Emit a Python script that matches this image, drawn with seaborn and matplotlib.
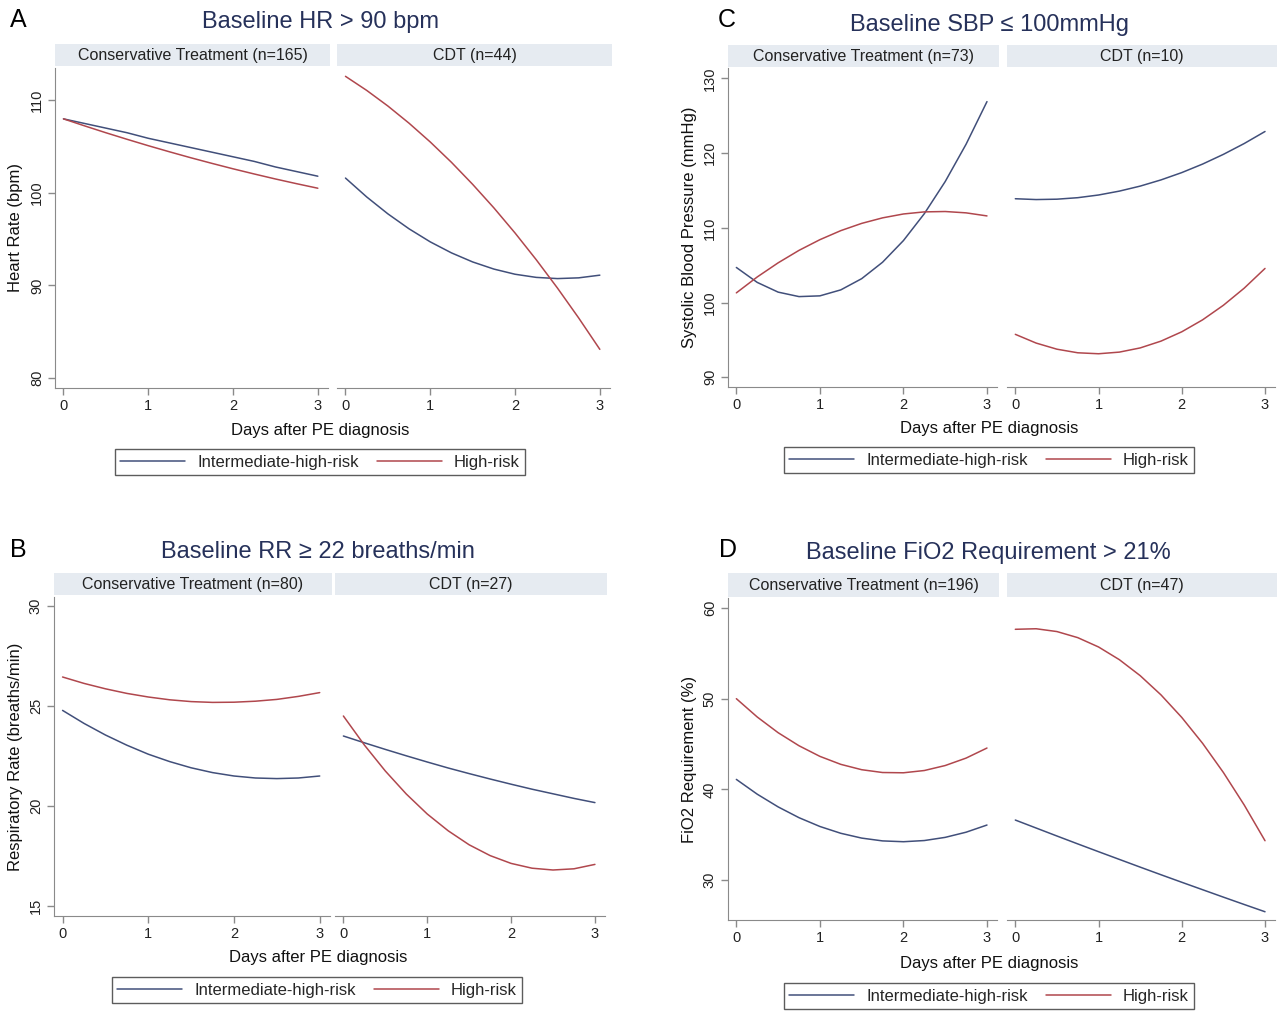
import matplotlib

matplotlib.use("Agg")
import matplotlib.pyplot as plt
import pandas as pd
import seaborn as sns
from matplotlib.lines import Line2D

# days after PE diagnosis at which the fitted curves were read
days = [0, 0.25, 0.5, 0.75, 1, 1.25, 1.5, 1.75, 2, 2.25, 2.5, 2.75, 3]

# A: heart rate
hr_cons_inter = [108.0, 107.5, 107.0, 106.5, 105.9, 105.4, 104.9, 104.4, 103.9, 103.4, 102.8, 102.3, 101.8]
hr_cons_high = [108.0, 107.24, 106.5, 105.79, 105.1, 104.44, 103.8, 103.19, 102.6, 102.04, 101.5, 100.99, 100.5]
hr_cdt_inter = [101.6, 99.56, 97.73, 96.11, 94.7, 93.51, 92.53, 91.76, 91.2, 90.86, 90.73, 90.81, 91.1]
hr_cdt_high = [112.6, 111.08, 109.39, 107.53, 105.5, 103.3, 100.92, 98.38, 95.66, 92.77, 89.71, 86.48, 83.08]

# B: respiratory rate
rr_cons_inter = [24.78, 24.13, 23.55, 23.04, 22.59, 22.22, 21.91, 21.67, 21.5, 21.4, 21.37, 21.4, 21.5]
rr_cons_high = [26.45, 26.13, 25.86, 25.63, 25.45, 25.31, 25.22, 25.18, 25.19, 25.24, 25.33, 25.48, 25.67]
rr_cdt_inter = [23.5, 23.16, 22.83, 22.51, 22.2, 21.9, 21.62, 21.35, 21.09, 20.84, 20.61, 20.38, 20.17]
rr_cdt_high = [24.5, 23.05, 21.75, 20.6, 19.6, 18.76, 18.06, 17.52, 17.13, 16.89, 16.8, 16.86, 17.08]

# C: systolic blood pressure
sbp_cons_inter = [104.7, 102.7, 101.4, 100.8, 100.9, 101.7, 103.2, 105.4, 108.3, 111.9, 116.2, 121.2, 126.9]
sbp_cons_high = [101.3, 103.43, 105.32, 106.99, 108.42, 109.63, 110.6, 111.34, 111.86, 112.14, 112.19, 112.01, 111.6]
sbp_cdt_inter = [113.9, 113.79, 113.84, 114.04, 114.4, 114.92, 115.59, 116.42, 117.4, 118.54, 119.84, 121.29, 122.9]
sbp_cdt_high = [95.75, 94.58, 93.76, 93.28, 93.15, 93.37, 93.93, 94.84, 96.09, 97.69, 99.64, 101.93, 104.57]

# D: FiO2 requirement
fio2_cons_inter = [41.1, 39.47, 38.07, 36.88, 35.91, 35.16, 34.63, 34.32, 34.23, 34.36, 34.71, 35.28, 36.07]
fio2_cons_high = [50.0, 47.98, 46.25, 44.81, 43.64, 42.76, 42.17, 41.86, 41.83, 42.08, 42.63, 43.45, 44.56]
fio2_cdt_inter = [36.62, 35.74, 34.86, 33.99, 33.13, 32.28, 31.43, 30.59, 29.76, 28.94, 28.12, 27.31, 26.51]
fio2_cdt_high = [57.65, 57.71, 57.4, 56.73, 55.7, 54.3, 52.54, 50.42, 47.93, 45.08, 41.86, 38.28, 34.34]

risk_groups = ["Intermediate-high-risk", "High-risk"]
colors = {"Intermediate-high-risk": "#414f7a", "High-risk": "#b0474d"}

W, H = 1279, 1013
STRIP_BG = "#e6ebf1"
AXIS_GRAY = "#8a8a8a"
TITLE_COLOR = "#26315a"


def long_frame(inter, high):
    rows = []
    for group, values in zip(risk_groups, [inter, high]):
        for d, v in zip(days, values):
            rows.append({"day": d, "value": v, "risk": group})
    return pd.DataFrame(rows)


def px_rect(x0, x1, y0, y1):
    return [x0 / W, 1 - y1 / H, (x1 - x0) / W, (y1 - y0) / H]


def draw_panel(fig, p):
    top, bottom = p["plot_y"]
    for i, (xs, strip_label, frame) in enumerate(
        zip([p["left"], p["right"]], p["strips"], p["frames"])
    ):
        ax = fig.add_axes(px_rect(xs[0], xs[1], top, bottom))
        sns.lineplot(
            data=frame, x="day", y="value", hue="risk", hue_order=risk_groups,
            palette=colors, linewidth=1.1, legend=False, ax=ax,
        )
        ax.set_xlim(-0.1, 3.12)
        ax.set_ylim(*p["ylim"])
        ax.set_xticks([0, 1, 2, 3])
        ax.set_xlabel("")
        ax.set_ylabel("")
        ax.spines["top"].set_visible(False)
        ax.spines["right"].set_visible(False)
        ax.spines["bottom"].set_color(AXIS_GRAY)
        ax.spines["left"].set_color(AXIS_GRAY)
        ax.tick_params(axis="both", colors=AXIS_GRAY, labelcolor="#222222",
                       labelsize=10.5, length=5, width=1, pad=3)
        if i == 0:
            ax.set_yticks(p["yticks"])
            ax.set_yticklabels([str(t) for t in p["yticks"]], rotation=90, va="center")
        else:
            ax.spines["left"].set_visible(False)
            ax.set_yticks([])

        sx = fig.add_axes(px_rect(xs[0], xs[1] + 2, p["strip"][0], p["strip"][1]))
        sx.set_facecolor(STRIP_BG)
        for s in sx.spines.values():
            s.set_visible(False)
        sx.set_xticks([])
        sx.set_yticks([])
        sx.text(0.5, 0.5, strip_label, ha="center", va="center",
                fontsize=11.5, color="#222222", transform=sx.transAxes)

    lx, ly = p["letter"]
    fig.text(lx / W, 1 - ly / H, p["letter_text"], fontsize=18,
             ha="center", va="center", color="black")
    tx, ty = p["title_xy"]
    fig.text(tx / W, 1 - ty / H, p["title"], fontsize=17,
             ha="center", va="center", color=TITLE_COLOR)
    yx = p["ylabel_x"]
    fig.text(yx / W, 1 - (top + bottom) / 2 / H, p["ylabel"], fontsize=12,
             rotation=90, ha="center", va="center", color="#111111")
    xx, xy = p["xlabel_xy"]
    fig.text(xx / W, 1 - xy / H, "Days after PE diagnosis", fontsize=12,
             ha="center", va="center", color="#111111")

    handles = [Line2D([], [], color=colors[g], linewidth=1.1) for g in risk_groups]
    gx, gy = p["legend_xy"]
    leg = fig.legend(
        handles, risk_groups, loc="center", bbox_to_anchor=(gx / W, 1 - gy / H),
        ncol=2, fontsize=12, frameon=True, fancybox=False, handlelength=3.9,
        columnspacing=1.1, handletextpad=0.7, borderpad=0.35,
    )
    leg.get_frame().set_edgecolor("#333333")
    leg.get_frame().set_linewidth(1.0)


sns.set_style("ticks")
plt.rcParams["font.family"] = ["Liberation Sans", "DejaVu Sans"]

panels = [
    dict(letter_text="A", title="Baseline HR > 90 bpm", ylabel="Heart Rate (bpm)",
         ylim=(78.9, 113.5), yticks=[80, 90, 100, 110],
         strips=["Conservative Treatment (n=165)", "CDT (n=44)"],
         frames=[long_frame(hr_cons_inter, hr_cons_high), long_frame(hr_cdt_inter, hr_cdt_high)],
         left=(55, 328), right=(337, 610), plot_y=(68, 388), strip=(44, 66),
         letter=(18, 20), title_xy=(320, 22), ylabel_x=16, xlabel_xy=(320, 430),
         legend_xy=(320, 462)),
    dict(letter_text="B", title="Baseline RR \u2265 22 breaths/min",
         ylabel="Respiratory Rate (breaths/min)",
         ylim=(14.5, 30.45), yticks=[15, 20, 25, 30],
         strips=["Conservative Treatment (n=80)", "CDT (n=27)"],
         frames=[long_frame(rr_cons_inter, rr_cons_high), long_frame(rr_cdt_inter, rr_cdt_high)],
         left=(54, 330), right=(335, 605), plot_y=(597, 916), strip=(573, 595),
         letter=(18, 550), title_xy=(318, 552), ylabel_x=16, xlabel_xy=(318, 957),
         legend_xy=(317, 990)),
    dict(letter_text="C", title="Baseline SBP \u2264 100mmHg",
         ylabel="Systolic Blood Pressure (mmHg)",
         ylim=(88.7, 131.4), yticks=[90, 100, 110, 120, 130],
         strips=["Conservative Treatment (n=73)", "CDT (n=10)"],
         frames=[long_frame(sbp_cons_inter, sbp_cons_high), long_frame(sbp_cdt_inter, sbp_cdt_high)],
         left=(728, 997), right=(1007, 1275), plot_y=(68, 387), strip=(45, 67),
         letter=(727, 20), title_xy=(990, 25), ylabel_x=690, xlabel_xy=(989, 428),
         legend_xy=(989, 460)),
    dict(letter_text="D", title="Baseline FiO2 Requirement > 21%",
         ylabel="FiO2 Requirement (%)",
         ylim=(25.6, 61.1), yticks=[30, 40, 50, 60],
         strips=["Conservative Treatment (n=196)", "CDT (n=47)"],
         frames=[long_frame(fio2_cons_inter, fio2_cons_high), long_frame(fio2_cdt_inter, fio2_cdt_high)],
         left=(728, 997), right=(1007, 1275), plot_y=(598, 920), strip=(573, 597),
         letter=(728, 550), title_xy=(988, 553), ylabel_x=690, xlabel_xy=(989, 963),
         legend_xy=(989, 996)),
]

fig = plt.figure(figsize=(W / 100, H / 100), dpi=100)
fig.patch.set_facecolor("white")
for p in panels:
    draw_panel(fig, p)

fig.savefig("out.png", dpi=100, facecolor="white")
